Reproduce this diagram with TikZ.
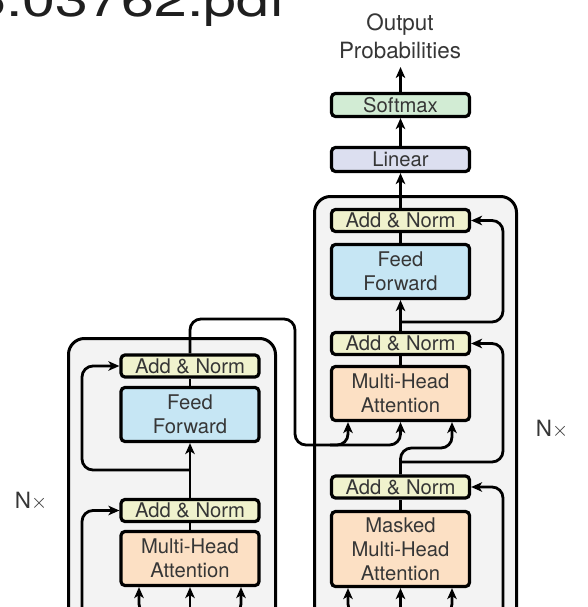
\documentclass[tikz,border=0pt]{standalone}
\usepackage{fontspec}
\setmainfont{TeX Gyre Heros}
\usetikzlibrary{arrows.meta}

\definecolor{addnorm}{HTML}{F0F2CD}
\definecolor{ffblue}{HTML}{C6E6F4}
\definecolor{attn}{HTML}{FCE0C4}
\definecolor{softgreen}{HTML}{D2ECD4}
\definecolor{linlav}{HTML}{DCDFF0}
\definecolor{blockgray}{HTML}{F3F3F3}
\definecolor{ink}{HTML}{363636}

\begin{document}
\begin{tikzpicture}[x=1bp,y=-1bp,
  layer/.style={draw=black, line width=3.2bp, rounded corners=4bp,
    minimum width=138bp, inner sep=0pt, align=center,
    font=\fontsize{20.3}{24}\selectfont, text=ink},
  anbox/.style={layer, fill=addnorm, minimum height=22bp},
  ffbox/.style={layer, fill=ffblue, minimum height=54bp},
  mhabox/.style={layer, fill=attn, minimum height=54bp},
  flow/.style={line width=2.8bp, rounded corners=11bp},
  tip/.style={-{Stealth[length=11bp,width=9.5bp,inset=3bp]}},
  block/.style={draw=black, line width=3bp, fill=blockgray, rounded corners=16bp},
  label/.style={inner sep=0pt, text=ink, font=\fontsize{22.5}{28}\selectfont, align=center},
]
\useasboundingbox (0,0) rectangle (588,607);

% file name running off the top left
\node[anchor=base east, inner sep=0pt, text=black!88,
      font=\fontsize{46}{46}\selectfont] (fname) at (286,17)
      {\scalebox{1.29}[1]{1706.03762.pdf}};

% encoder and decoder stacks
\draw[block] (68.5,338.5) rectangle (275.5,680);
\draw[block] (314.5,196.5) rectangle (516.5,680);

% helper coordinates
\coordinate (bottom) at (0,640);
\coordinate (eres) at (82,0);
\coordinate (dres) at (503,0);
\coordinate (ein1) at (139,0);
\coordinate (ein3) at (241,0);
\coordinate (din1) at (348,0);
\coordinate (din3) at (452,0);

% encoder layers
\node[anbox]  (ea1)  at (190,366)   {Add \& Norm};
\node[ffbox]  (eff)  at (190,414.5) {Feed\\Forward};
\node[anbox]  (ea2)  at (190,510.5) {Add \& Norm};
\node[mhabox] (emha) at (190,558.5) {Multi-Head\\Attention};

% decoder layers
\node[layer, fill=softgreen, minimum height=23bp] (soft) at (400.5,105) {Softmax};
\node[layer, fill=linlav, minimum height=24bp]    (lin)  at (400.5,159.5) {Linear};
\node[anbox]  (da1)  at (400.5,220.5) {Add \& Norm};
\node[ffbox]  (dff)  at (400.5,271.5) {Feed\\Forward};
\node[anbox]  (da2)  at (400.5,343.5) {Add \& Norm};
\node[mhabox] (dmha) at (400.5,393.5) {Multi-Head\\Attention};
\node[anbox]  (da3)  at (400.5,487)   {Add \& Norm};
\node[layer, fill=attn, minimum height=75bp] (dmmha) at (400.5,549)
      {Masked\\Multi-Head\\Attention};

\node[label, anchor=south] (outp) at (400,59) {Output\\Probabilities};
\coordinate (outtip) at (400.5,67);

\node[label] (nenc) at (31,501) {N$\times$};
\node[label] (ndec) at (552,429) {N$\times$};

% decoder head
\draw[flow,tip] (soft.north) -- (outtip);
\draw[flow,tip] (lin.north) -- (soft.south);
\draw[flow,tip] (da1.north) -- (lin.south);

% decoder internals
\draw[flow] (dff.north) -- (da1.south);
\draw[flow,tip] (da2.north) -- (dff.south);
\draw[flow] (dmha.north) -- (da2.south);
\draw[flow] (dmmha.north) -- (da3.south);

\coordinate (dj1) at (400.5,322);
\draw[flow,tip] (dj1) -- (dj1 -| dres) |- (da1.east);
\coordinate (dj2) at (400.5,462);
\draw[flow,tip] (dj2) -- (dj2 -| dres) |- (da2.east);
\draw[flow,tip] (dres |- bottom) |- (da3.east);

\coordinate (dqb) at (400.5,448);
\draw[flow,tip] (da3.north) -- (dqb) -| (din3 |- dmha.south);

% encoder internals
\draw[flow] (emha.north) -- (ea2.south);
\draw[flow,tip] (ea2.north) -- (eff.south);
\draw[flow] (eff.north) -- (ea1.south);

\coordinate (ej) at (190,470);
\draw[flow,tip] (ej) -- (ej -| eres) |- (ea1.west);
\draw[flow,tip] (eres |- bottom) |- (ea2.west);

% encoder output into the decoder attention
\coordinate (etop) at (190,319);
\coordinate (ebr) at (295,445);
\coordinate (ebr2) at (330,445);
\draw[flow,tip] (ea1.north) -- (etop) -| (ebr) -| (din1 |- dmha.south);
\draw[flow,tip] (ebr2) -| (dmha.south);

% inputs entering from below
\coordinate (ebot) at (190,615);
\draw[flow,tip] (bottom -| emha.south) -- (emha.south);
\draw[flow,tip] (ebot) -| (ein1 |- emha.south);
\draw[flow,tip] (ebot) -| (ein3 |- emha.south);

\coordinate (dbot) at (400.5,615);
\draw[flow,tip] (bottom -| dmmha.south) -- (dmmha.south);
\draw[flow,tip] (dbot) -| (din1 |- dmmha.south);
\draw[flow,tip] (dbot) -| (din3 |- dmmha.south);
\end{tikzpicture}
\end{document}
